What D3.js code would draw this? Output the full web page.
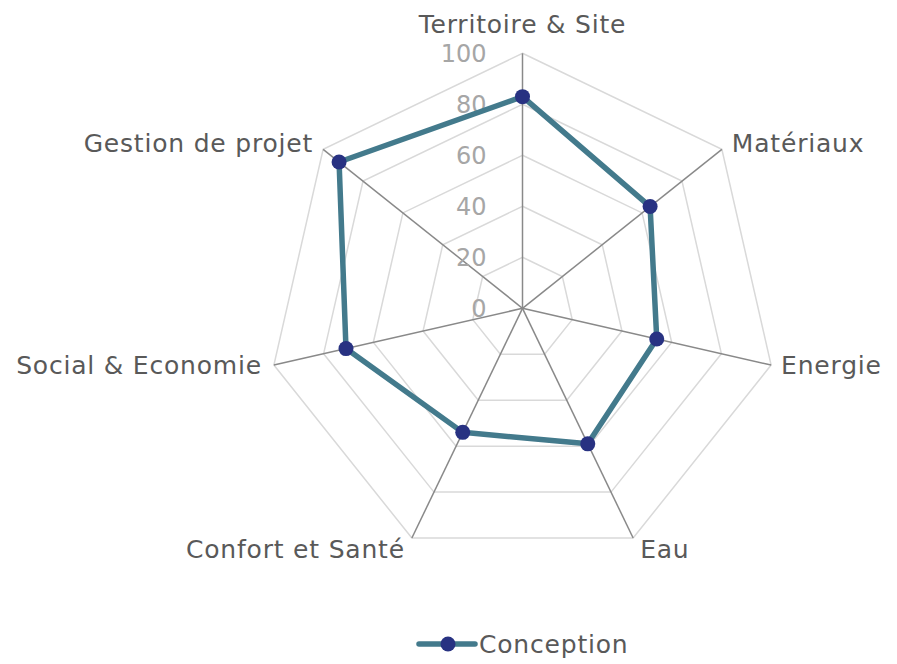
<!DOCTYPE html>
<html>
<head>
<meta charset="utf-8">
<script src="https://cdn.jsdelivr.net/npm/d3@7"></script>
<style>
  body { margin: 0; background: #fff; }
  svg text { font-family: "DejaVu Sans", "Noto Sans", sans-serif; }
</style>
</head>
<body>
<div id="radar"></div>
<script>
// chart size
const width = 897;
const height = 664;

// data
const categories = ["Territoire & Site", "Matériaux", "Energie", "Eau",
  "Confort et Santé", "Social & Economie", "Gestion de projet"];
const conception = [83, 64, 54, 59, 54, 71, 92];
const tickValues = [0, 20, 40, 60, 80, 100];
const seriesName = "Conception";

const cx = 522.5, cy = 308.3;
const radius = 255;

const svg = d3.select("#radar")
  .append("svg")
  .attr("width", width)
  .attr("height", height);

// radial scale for the values
const rScale = d3.scaleLinear()
  .domain([0, 100])
  .range([0, radius]);

// angle scale, one step per category, starting at the top
const aScale = d3.scaleLinear()
  .domain([0, categories.length])
  .range([0, 2 * Math.PI]);

const pt = (i, v) => [cx + rScale(v) * Math.sin(aScale(i)),
                      cy - rScale(v) * Math.cos(aScale(i))];

// grid rings
svg.append("g")
  .selectAll("polygon")
  .data(tickValues.slice(1))
  .join("polygon")
  .attr("points", v => categories.map((c, i) => pt(i, v).join(",")).join(" "))
  .attr("fill", "none")
  .attr("stroke", "#d9d9d9")
  .attr("stroke-width", 1.5);

// spokes
svg.append("g")
  .selectAll("line")
  .data(categories)
  .join("line")
  .attr("x1", cx)
  .attr("y1", cy)
  .attr("x2", (d, i) => pt(i, 100)[0])
  .attr("y2", (d, i) => pt(i, 100)[1])
  .attr("stroke", "#898989")
  .attr("stroke-width", 1.5);

// tick labels on the vertical axis
svg.append("g")
  .selectAll("text")
  .data(tickValues)
  .join("text")
  .attr("x", cx - 36)
  .attr("y", v => cy - rScale(v))
  .attr("dy", "0.36em")
  .attr("text-anchor", "end")
  .attr("fill", "#a6a6a6")
  .attr("font-size", 24)
  .text(d => d);

// category labels
const labelPos = (i) => {
  const [x, y] = pt(i, 100);
  const s = Math.sin(aScale(i)), c = Math.cos(aScale(i));
  if (i === 0) return { x: x, y: y - 29, anchor: "middle" };
  if (Math.abs(c) > 0.85) return { x: x + (s > 0 ? 7 : -7), y: y + 11, anchor: s > 0 ? "start" : "end" };
  if (c > 0.5) return { x: x + (s > 0 ? 10 : -10), y: y - 6, anchor: s > 0 ? "start" : "end" };
  return { x: x + (s > 0 ? 10 : -12), y: y, anchor: s > 0 ? "start" : "end" };
};

svg.append("g")
  .selectAll("text")
  .data(categories)
  .join("text")
  .attr("x", (d, i) => labelPos(i).x)
  .attr("y", (d, i) => labelPos(i).y)
  .attr("dy", "0.36em")
  .attr("text-anchor", (d, i) => labelPos(i).anchor)
  .attr("fill", "#595959")
  .attr("font-size", 25)
  .attr("letter-spacing", 0.8)
  .text(d => d);

// the series line
const lineGen = d3.line().curve(d3.curveLinearClosed);
svg.append("path")
  .datum(conception.map((v, i) => pt(i, v)))
  .attr("d", lineGen)
  .attr("fill", "none")
  .attr("stroke", "#437a8c")
  .attr("stroke-width", 5.5)
  .attr("stroke-linejoin", "round");

svg.append("g")
  .selectAll("circle")
  .data(conception)
  .join("circle")
  .attr("cx", (v, i) => pt(i, v)[0])
  .attr("cy", (v, i) => pt(i, v)[1])
  .attr("r", 7.5)
  .attr("fill", "#283282");

// legend
const legend = svg.append("g");
legend.append("line")
  .attr("x1", 419).attr("x2", 475)
  .attr("y1", 644).attr("y2", 644)
  .attr("stroke", "#437a8c")
  .attr("stroke-width", 5.5)
  .attr("stroke-linecap", "round");
legend.append("circle")
  .attr("cx", 448).attr("cy", 644)
  .attr("r", 7.5)
  .attr("fill", "#283282");
legend.append("text")
  .attr("x", 479).attr("y", 644)
  .attr("dy", "0.36em")
  .attr("fill", "#595959")
  .attr("font-size", 25)
  .attr("letter-spacing", 0.8)
  .text(seriesName);
</script>
</body>
</html>
